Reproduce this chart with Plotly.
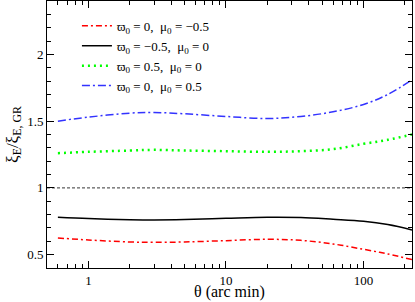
import plotly.graph_objects as go

theta = [0.6, 1, 2, 3, 5, 10, 20, 35, 60, 100, 150, 225]
red = [0.625, 0.61, 0.595, 0.592, 0.595, 0.605, 0.615, 0.607, 0.58, 0.54, 0.505, 0.463]
black = [0.78, 0.77, 0.762, 0.76, 0.763, 0.772, 0.78, 0.778, 0.765, 0.75, 0.725, 0.685]
green = [1.26, 1.27, 1.28, 1.285, 1.28, 1.275, 1.27, 1.275, 1.29, 1.33, 1.36, 1.40]
blue = [1.50, 1.53, 1.56, 1.565, 1.555, 1.535, 1.52, 1.535, 1.57, 1.625, 1.70, 1.81]
ref_x = [0.5, 225]
ref_y = [1, 1]

names = [
    "ϖ<sub>0</sub> = 0,  μ<sub>0</sub> = −0.5",
    "ϖ<sub>0</sub> = −0.5,  μ<sub>0</sub> = 0",
    "ϖ<sub>0</sub> = 0.5,  μ<sub>0</sub> = 0",
    "ϖ<sub>0</sub> = 0,  μ<sub>0</sub> = 0.5",
]

fig = go.Figure()
fig.add_trace(go.Scatter(x=ref_x, y=ref_y, mode="lines", showlegend=False,
                         line=dict(color="black", width=0.8, dash="3px,2px")))
fig.add_trace(go.Scatter(x=theta, y=red, mode="lines", name=names[0],
                         line=dict(color="#ff0000", width=1.5, dash="6px,3px,2px,3px", shape="spline")))
fig.add_trace(go.Scatter(x=theta, y=black, mode="lines", name=names[1],
                         line=dict(color="black", width=1.5, shape="spline")))
fig.add_trace(go.Scatter(x=theta, y=green, mode="lines", name=names[2],
                         line=dict(color="#00ff00", width=2.5, dash="2px,4px", shape="spline")))
fig.add_trace(go.Scatter(x=theta, y=blue, mode="lines", name=names[3],
                         line=dict(color="#3333ff", width=1.5, dash="8px,3px,2px,3px", shape="spline")))

font = "Liberation Serif"
axis_common = dict(showline=True, linecolor="black", linewidth=1, mirror="allticks",
                   ticks="inside", ticklen=7, tickcolor="black", showgrid=False,
                   zeroline=False, automargin=False,
                   tickfont=dict(family=font, size=13, color="black"))

fig.update_xaxes(type="log", range=[-0.301, 2.352], dtick=1,
                 minor=dict(dtick="D1", ticks="inside", ticklen=4, tickcolor="black", showgrid=False),
                 **axis_common)
fig.update_yaxes(range=[0.4, 2.4], tickvals=[0.5, 1, 1.5, 2], ticktext=["0.5", "1", "1.5", "2"],
                 minor=dict(dtick=0.1, ticks="inside", ticklen=4, tickcolor="black", showgrid=False),
                 title=dict(text="ξ<sub>E</sub>/ξ<sub>E, GR</sub>", font=dict(family=font, size=17, color="black"), standoff=4),
                 **axis_common)

fig.add_annotation(text="θ (arc min)", x=0.5, y=0, xref="paper", yref="paper",
                   xanchor="center", yanchor="middle", yshift=-24, showarrow=False,
                   font=dict(family=font, size=16, color="black"))

fig.update_layout(
    width=415, height=302,
    margin=dict(l=47, r=3, t=1, b=34),
    paper_bgcolor="white", plot_bgcolor="white",
    legend=dict(x=0.082, y=0.963, xanchor="left", yanchor="top", bgcolor="rgba(0,0,0,0)",
                itemwidth=30, font=dict(family=font, size=13, color="black"), tracegroupgap=0),
)

fig.write_html("out.html", config={"displayModeBar": False},
               post_script="document.body.style.margin='0';document.body.style.overflow='hidden';")
